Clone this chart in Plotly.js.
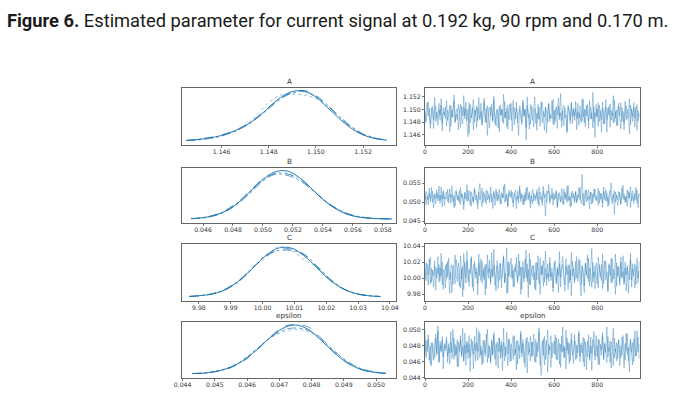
<!DOCTYPE html>
<html><head><meta charset="utf-8">
<script src="https://cdn.plot.ly/plotly-3.0.1.min.js"></script>
<style>html,body{margin:0;padding:0;background:#fff}#c{width:681px;height:404px}</style>
</head><body><div id="c"></div>
<script>
// ---------- data ----------
var paramNames = ["A", "B", "C", "epsilon"];

// KDE grids and chain densities (relative heights)
var kdeA_x = [1.1445,1.1450,1.1455,1.1460,1.1465,1.1470,1.1475,1.1480,1.1485,1.1490,1.1495,1.1500,1.1505,1.1510,1.1515,1.1520,1.1525,1.1530];
var kdeA_c1 = [0.01,0.03,0.06,0.11,0.19,0.30,0.46,0.66,0.86,0.98,0.99,0.87,0.66,0.44,0.25,0.12,0.05,0.015];
var kdeA_c2 = [0.01,0.03,0.07,0.12,0.20,0.31,0.47,0.67,0.85,0.96,1.00,0.90,0.70,0.47,0.27,0.13,0.05,0.02];
var kdeA_c3 = [0.01,0.03,0.06,0.10,0.18,0.31,0.52,0.76,0.91,0.93,0.91,0.84,0.68,0.47,0.28,0.14,0.06,0.02];
var kdeA_c4 = [0.01,0.02,0.05,0.10,0.18,0.29,0.45,0.64,0.83,0.95,0.98,0.89,0.71,0.49,0.29,0.14,0.06,0.02];

var kdeB_x = [0.0452,0.0460,0.0468,0.0476,0.0484,0.0492,0.0500,0.0508,0.0516,0.0524,0.0532,0.0540,0.0548,0.0556,0.0564,0.0572,0.0580,0.0586];
var kdeB_c1 = [0.01,0.03,0.08,0.18,0.35,0.58,0.81,0.97,0.99,0.86,0.64,0.40,0.22,0.10,0.04,0.015,0.005,0.002];
var kdeB_c2 = [0.01,0.03,0.09,0.20,0.37,0.60,0.82,0.93,0.93,0.83,0.63,0.41,0.23,0.11,0.05,0.02,0.008,0.003];
var kdeB_c3 = [0.01,0.03,0.08,0.19,0.36,0.60,0.84,0.95,0.94,0.84,0.64,0.42,0.24,0.11,0.05,0.02,0.007,0.003];
var kdeB_c4 = [0.01,0.02,0.07,0.17,0.33,0.55,0.78,0.92,0.90,0.80,0.62,0.41,0.24,0.12,0.05,0.02,0.008,0.003];

var kdeC_x = [9.977,9.981,9.985,9.989,9.993,9.997,10.001,10.005,10.009,10.013,10.017,10.021,10.025,10.029,10.033,10.037];
var kdeC_c1 = [0.01,0.03,0.07,0.17,0.34,0.58,0.82,0.97,0.97,0.82,0.58,0.34,0.17,0.07,0.025,0.008];
var kdeC_c2 = [0.01,0.03,0.08,0.18,0.35,0.58,0.80,0.93,0.95,0.84,0.60,0.35,0.17,0.07,0.03,0.01];
var kdeC_c3 = [0.01,0.03,0.07,0.17,0.35,0.60,0.78,1.00,0.92,0.74,0.60,0.36,0.18,0.08,0.03,0.01];
var kdeC_c4 = [0.01,0.03,0.07,0.16,0.33,0.57,0.83,0.92,0.92,0.85,0.62,0.37,0.18,0.07,0.03,0.01];

var kdeE_x = [0.0443,0.0447,0.0451,0.0455,0.0459,0.0463,0.0467,0.0471,0.0475,0.0479,0.0483,0.0487,0.0491,0.0495,0.0499,0.0503];
var kdeE_c1 = [0.01,0.02,0.06,0.14,0.28,0.49,0.73,0.92,0.99,0.90,0.68,0.43,0.23,0.10,0.04,0.012];
var kdeE_c2 = [0.01,0.02,0.06,0.13,0.27,0.48,0.73,0.95,1.00,0.95,0.72,0.44,0.23,0.10,0.04,0.012];
var kdeE_c3 = [0.01,0.03,0.07,0.15,0.30,0.51,0.72,0.85,0.90,0.85,0.69,0.46,0.25,0.11,0.045,0.015];
var kdeE_c4 = [0.01,0.02,0.06,0.14,0.29,0.50,0.72,0.88,0.93,0.88,0.71,0.47,0.26,0.12,0.05,0.015];

// Trace samples, two chains (every 5th draw)
var traceA1 = [1.1497,1.1480,1.1500,1.1512,1.1489,1.1477,1.1503,1.1494,1.1470,1.1501,1.1506,1.1486,1.1492,1.1510,1.1483,1.1517,1.1478,1.1496,1.1491,1.1504,
1.1474,1.1499,1.1495,1.1465,1.1507,1.1487,1.1502,1.1514,1.1481,1.1493,1.1484,1.1508,1.1498,1.1472,1.1505,1.1490,1.1522,1.1485,1.1501,1.1476,
1.1457,1.1511,1.1479,1.1488,1.1503,1.1468,1.1500,1.1492,1.1506,1.1482,1.1519,1.1486,1.1497,1.1475,1.1495,1.1513,1.1480,1.1502,1.1459,1.1498,
1.1504,1.1489,1.1509,1.1483,1.1516,1.1477,1.1493,1.1499,1.1471,1.1505,1.1491,1.1501,1.1481,1.1524,1.1487,1.1496,1.1473,1.1507,1.1484,1.1494,
1.1510,1.1466,1.1498,1.1503,1.1485,1.1512,1.1479,1.1495,1.1501,1.1488,1.1476,1.1515,1.1490,1.1500,1.1452,1.1506,1.1492,1.1469,1.1508,1.1497,
1.1483,1.1502,1.1520,1.1478,1.1494,1.1486,1.1504,1.1474,1.1499,1.1511,1.1489,1.1467,1.1503,1.1496,1.1480,1.1509,1.1485,1.1493,1.1514,1.1477,
1.1498,1.1481,1.1505,1.1491,1.1518,1.1484,1.1495,1.1472,1.1501,1.1507,1.1487,1.1492,1.1463,1.1504,1.1499,1.1478,1.1510,1.1489,1.1502,1.1483,
1.1513,1.1486,1.1496,1.1475,1.1506,1.1494,1.1482,1.1516,1.1479,1.1500,1.1490,1.1508,1.1470,1.1497,1.1503,1.1485,1.1527,1.1480,1.1495,1.1488,
1.1501,1.1473,1.1507,1.1493,1.1484,1.1512,1.1477,1.1498,1.1504,1.1464,1.1502,1.1491,1.1509,1.1483,1.1495,1.1479,1.1515,1.1487,1.1499,1.1474,
1.1505,1.1490,1.1511,1.1481,1.1497,1.1468,1.1500,1.1506,1.1486,1.1492,1.1517,1.1476,1.1501,1.1489,1.1503,1.1472,1.1496,1.1508,1.1482,1.1494];
var traceA2 = [1.1478,1.1498,1.1511,1.1489,1.1502,1.1470,1.1493,1.1505,1.1484,1.1519,1.1481,1.1496,1.1475,1.1500,1.1491,1.1507,1.1466,1.1503,1.1495,1.1486,
1.1514,1.1483,1.1492,1.1506,1.1473,1.1499,1.1488,1.1523,1.1479,1.1497,1.1502,1.1468,1.1494,1.1509,1.1485,1.1477,1.1504,1.1490,1.1512,1.1482,
1.1501,1.1462,1.1508,1.1487,1.1496,1.1516,1.1480,1.1499,1.1472,1.1503,1.1493,1.1484,1.1510,1.1476,1.1498,1.1518,1.1489,1.1479,1.1506,1.1492,
1.1471,1.1504,1.1497,1.1481,1.1521,1.1488,1.1474,1.1501,1.1495,1.1465,1.1507,1.1491,1.1500,1.1478,1.1513,1.1486,1.1502,1.1469,1.1494,1.1509,
1.1483,1.1496,1.1515,1.1476,1.1492,1.1503,1.1485,1.1459,1.1506,1.1498,1.1480,1.1511,1.1489,1.1501,1.1472,1.1520,1.1487,1.1493,1.1477,1.1505,
1.1499,1.1473,1.1502,1.1495,1.1467,1.1508,1.1484,1.1494,1.1513,1.1479,1.1497,1.1488,1.1504,1.1463,1.1500,1.1510,1.1481,1.1492,1.1486,1.1516,
1.1476,1.1501,1.1493,1.1470,1.1505,1.1489,1.1525,1.1482,1.1498,1.1474,1.1503,1.1491,1.1466,1.1507,1.1496,1.1483,1.1512,1.1478,1.1499,1.1490,
1.1502,1.1468,1.1510,1.1486,1.1494,1.1479,1.1517,1.1488,1.1500,1.1473,1.1506,1.1492,1.1482,1.1514,1.1485,1.1495,1.1471,1.1504,1.1456,1.1508,
1.1489,1.1511,1.1481,1.1498,1.1464,1.1502,1.1493,1.1477,1.1516,1.1484,1.1496,1.1505,1.1472,1.1499,1.1491,1.1522,1.1480,1.1497,1.1475,1.1501,
1.1510,1.1487,1.1469,1.1503,1.1494,1.1478,1.1513,1.1483,1.1500,1.1490,1.1462,1.1507,1.1495,1.1481,1.1511,1.1486,1.1504,1.1467,1.1498,1.1488];

var traceB1 = [0.0505,0.0528,0.0516,0.0492,0.0523,0.0509,0.0539,0.0500,0.0519,0.0513,0.0496,0.0525,0.0511,0.0543,0.0504,0.0518,0.0488,0.0531,0.0507,0.0522,
0.0527,0.0502,0.0515,0.0535,0.0497,0.0520,0.0510,0.0485,0.0524,0.0532,0.0506,0.0517,0.0499,0.0538,0.0512,0.0521,0.0493,0.0526,0.0508,0.0546,
0.0503,0.0519,0.0530,0.0489,0.0514,0.0501,0.0533,0.0522,0.0509,0.0482,0.0527,0.0505,0.0516,0.0537,0.0498,0.0523,0.0511,0.0494,0.0529,0.0520,
0.0507,0.0541,0.0500,0.0517,0.0524,0.0491,0.0513,0.0528,0.0504,0.0534,0.0510,0.0496,0.0521,0.0512,0.0548,0.0502,0.0518,0.0487,0.0525,0.0515,
0.0532,0.0506,0.0498,0.0523,0.0516,0.0483,0.0529,0.0509,0.0536,0.0501,0.0519,0.0514,0.0493,0.0526,0.0505,0.0540,0.0511,0.0522,0.0499,0.0517,
0.0495,0.0524,0.0518,0.0504,0.0533,0.0510,0.0489,0.0527,0.0520,0.0500,0.0542,0.0507,0.0463,0.0529,0.0523,0.0531,0.0503,0.0512,0.0537,0.0492,
0.0521,0.0509,0.0528,0.0486,0.0519,0.0525,0.0502,0.0516,0.0494,0.0535,0.0511,0.0522,0.0499,0.0544,0.0506,0.0513,0.0490,0.0530,0.0518,0.0504,
0.0526,0.0497,0.0515,0.0538,0.0505,0.0520,0.0573,0.0491,0.0510,0.0532,0.0501,0.0517,0.0533,0.0507,0.0527,0.0495,0.0522,0.0512,0.0534,0.0503,
0.0516,0.0491,0.0529,0.0508,0.0523,0.0499,0.0540,0.0514,0.0504,0.0525,0.0488,0.0519,0.0531,0.0510,0.0496,0.0521,0.0468,0.0527,0.0517,0.0506,
0.0528,0.0512,0.0494,0.0522,0.0545,0.0505,0.0515,0.0500,0.0533,0.0509,0.0524,0.0486,0.0519,0.0530,0.0503,0.0516,0.0539,0.0498,0.0511,0.0523];
var traceB2 = [0.0524,0.0493,0.0517,0.0506,0.0537,0.0500,0.0515,0.0529,0.0485,0.0522,0.0510,0.0532,0.0503,0.0519,0.0497,0.0540,0.0508,0.0526,0.0491,0.0514,
0.0509,0.0534,0.0498,0.0521,0.0512,0.0543,0.0501,0.0518,0.0489,0.0527,0.0516,0.0504,0.0530,0.0494,0.0523,0.0511,0.0480,0.0525,0.0520,0.0502,
0.0531,0.0507,0.0492,0.0526,0.0513,0.0499,0.0538,0.0505,0.0519,0.0496,0.0524,0.0549,0.0509,0.0488,0.0528,0.0515,0.0501,0.0533,0.0506,0.0517,
0.0498,0.0522,0.0514,0.0483,0.0529,0.0508,0.0535,0.0502,0.0520,0.0516,0.0494,0.0525,0.0511,0.0541,0.0500,0.0506,0.0523,0.0490,0.0531,0.0518,
0.0512,0.0527,0.0487,0.0521,0.0532,0.0504,0.0515,0.0497,0.0544,0.0509,0.0524,0.0493,0.0519,0.0501,0.0537,0.0513,0.0505,0.0528,0.0484,0.0523,
0.0534,0.0503,0.0518,0.0510,0.0526,0.0495,0.0540,0.0507,0.0514,0.0491,0.0529,0.0512,0.0522,0.0499,0.0517,0.0547,0.0496,0.0520,0.0508,0.0525,
0.0505,0.0515,0.0531,0.0489,0.0523,0.0509,0.0500,0.0536,0.0518,0.0494,0.0527,0.0506,0.0542,0.0503,0.0516,0.0487,0.0525,0.0511,0.0521,0.0498,
0.0529,0.0501,0.0519,0.0512,0.0539,0.0496,0.0508,0.0524,0.0490,0.0517,0.0532,0.0504,0.0515,0.0482,0.0526,0.0520,0.0499,0.0535,0.0510,0.0505,
0.0518,0.0537,0.0497,0.0523,0.0511,0.0486,0.0528,0.0507,0.0533,0.0502,0.0514,0.0493,0.0525,0.0551,0.0504,0.0510,0.0530,0.0500,0.0519,0.0491,
0.0507,0.0526,0.0495,0.0538,0.0509,0.0522,0.0499,0.0516,0.0489,0.0529,0.0512,0.0541,0.0503,0.0518,0.0496,0.0524,0.0506,0.0533,0.0485,0.0521];

var traceC1 = [10.010,9.997,10.018,10.004,10.024,9.993,10.012,10.006,9.989,10.015,10.009,10.000,10.027,9.995,10.013,10.002,10.020,9.986,10.008,10.016,
9.999,10.021,10.005,9.981,10.014,10.017,9.992,10.011,10.029,10.003,9.996,10.019,10.007,9.988,10.012,9.977,10.031,10.010,9.994,10.022,
10.008,9.990,10.015,10.025,10.001,9.984,10.018,10.005,10.013,9.993,10.030,10.006,9.997,10.021,10.002,10.014,9.979,10.017,10.009,10.000,
10.023,9.996,10.011,10.003,10.036,9.991,10.007,10.016,9.987,10.012,10.019,9.999,10.004,10.028,9.994,10.010,10.038,9.982,10.020,10.006,
10.001,10.017,9.989,10.013,10.008,10.026,9.997,10.005,10.021,9.980,10.014,10.009,9.995,10.024,10.000,10.018,9.976,10.031,9.992,10.011,
10.015,9.998,10.007,9.985,10.020,10.012,9.993,10.025,10.004,10.016,9.990,10.010,10.034,9.999,10.006,9.996,10.019,10.002,10.013,9.988,
10.009,10.022,9.995,10.011,9.982,10.018,10.001,10.014,10.027,10.005,9.992,10.015,10.008,9.986,10.017,9.998,10.032,10.003,10.012,9.994,
10.021,10.000,10.006,10.024,9.997,9.978,10.016,10.010,9.991,10.019,10.004,10.029,9.996,10.013,10.007,9.989,10.020,10.001,10.015,10.005,
9.993,10.026,10.012,10.002,10.017,9.987,10.009,10.022,9.998,10.008,9.983,10.018,10.003,10.025,9.995,10.011,10.005,10.030,9.990,10.014,
10.007,9.996,10.020,10.000,10.028,9.992,10.013,10.004,10.016,9.981,10.010,10.023,9.998,10.018,10.002,9.988,10.015,10.009,9.994,10.021];
var traceC2 = [10.000,10.019,10.008,9.991,10.014,10.026,9.995,10.010,10.003,10.022,9.985,10.013,10.005,10.017,9.997,10.031,9.992,10.011,10.006,9.988,
10.018,10.002,10.025,9.998,10.007,9.982,10.016,10.009,9.993,10.023,10.012,10.004,9.990,10.028,9.999,10.015,9.986,10.020,10.001,10.034,
9.996,10.011,10.005,10.027,9.989,10.014,10.021,10.000,10.008,9.979,10.019,10.003,10.024,9.994,10.010,9.998,10.017,9.987,10.029,10.007,
10.013,9.992,10.032,10.001,10.016,10.004,9.984,10.022,10.009,9.997,10.018,9.988,10.012,10.026,9.995,10.006,9.981,10.020,10.002,10.015,
10.025,9.999,10.010,9.990,10.017,10.007,9.994,10.030,10.003,10.014,9.986,10.021,10.000,10.008,10.035,9.996,10.011,9.992,10.023,10.005,
10.002,10.016,9.987,10.019,9.998,10.028,10.009,9.980,10.015,10.005,10.022,9.995,10.012,9.991,10.018,10.001,10.026,9.997,10.007,9.983,
10.020,10.006,9.993,10.014,10.003,10.033,9.989,10.011,10.017,9.999,9.984,10.024,10.004,10.016,9.994,10.010,9.978,10.021,10.013,9.997,
10.004,10.027,9.996,10.009,10.022,9.992,10.015,10.001,9.982,10.018,10.007,10.000,10.025,9.990,10.014,10.037,9.995,10.008,9.987,10.019,
10.012,9.988,10.017,10.003,9.997,10.030,9.993,10.010,10.021,10.005,9.985,10.016,10.011,9.994,10.024,9.999,10.006,9.980,10.019,10.002,
10.015,9.991,10.026,10.001,10.008,9.995,10.020,9.984,10.013,10.007,9.998,10.031,9.989,10.012,10.003,10.018,9.992,10.025,10.000,10.009];

var traceE1 = [0.0500,0.0465,0.0478,0.0489,0.0470,0.0457,0.0484,0.0475,0.0462,0.0482,0.0495,0.0468,0.0505,0.0460,0.0486,0.0472,0.0492,0.0466,0.0480,0.0474,
0.0487,0.0459,0.0483,0.0471,0.0498,0.0464,0.0476,0.0490,0.0467,0.0479,0.0454,0.0485,0.0473,0.0488,0.0469,0.0502,0.0463,0.0481,0.0456,0.0484,
0.0472,0.0493,0.0466,0.0477,0.0486,0.0451,0.0482,0.0474,0.0503,0.0462,0.0480,0.0496,0.0469,0.0475,0.0458,0.0487,0.0471,0.0483,0.0501,0.0465,
0.0479,0.0461,0.0488,0.0468,0.0494,0.0476,0.0455,0.0485,0.0473,0.0490,0.0464,0.0481,0.0449,0.0484,0.0478,0.0467,0.0497,0.0470,0.0489,0.0460,
0.0482,0.0477,0.0463,0.0492,0.0471,0.0486,0.0457,0.0480,0.0474,0.0499,0.0466,0.0488,0.0472,0.0453,0.0483,0.0491,0.0469,0.0476,0.0461,0.0485,
0.0467,0.0495,0.0478,0.0459,0.0484,0.0473,0.0503,0.0464,0.0443,0.0470,0.0489,0.0456,0.0479,0.0487,0.0447,0.0482,0.0475,0.0493,0.0465,0.0477,
0.0486,0.0469,0.0490,0.0462,0.0476,0.0483,0.0453,0.0492,0.0472,0.0480,0.0466,0.0500,0.0474,0.0485,0.0458,0.0478,0.0488,0.0468,0.0473,0.0494,
0.0463,0.0481,0.0471,0.0496,0.0467,0.0484,0.0477,0.0460,0.0489,0.0474,0.0450,0.0486,0.0479,0.0465,0.0491,0.0470,0.0483,0.0498,0.0462,0.0475,
0.0480,0.0457,0.0487,0.0476,0.0468,0.0493,0.0463,0.0482,0.0472,0.0504,0.0466,0.0478,0.0459,0.0485,0.0481,0.0455,0.0490,0.0473,0.0484,0.0464,
0.0488,0.0471,0.0465,0.0491,0.0477,0.0452,0.0483,0.0474,0.0495,0.0461,0.0480,0.0486,0.0469,0.0456,0.0489,0.0476,0.0467,0.0499,0.0472,0.0482];
var traceE2 = [0.0468,0.0487,0.0473,0.0494,0.0462,0.0480,0.0455,0.0484,0.0476,0.0465,0.0490,0.0471,0.0498,0.0459,0.0481,0.0474,0.0486,0.0451,0.0483,0.0477,
0.0491,0.0467,0.0478,0.0457,0.0485,0.0472,0.0501,0.0463,0.0482,0.0469,0.0488,0.0454,0.0475,0.0493,0.0466,0.0479,0.0460,0.0496,0.0470,0.0486,
0.0464,0.0482,0.0448,0.0489,0.0477,0.0469,0.0492,0.0461,0.0484,0.0473,0.0499,0.0465,0.0480,0.0456,0.0487,0.0476,0.0467,0.0495,0.0459,0.0481,
0.0478,0.0458,0.0485,0.0470,0.0497,0.0463,0.0483,0.0475,0.0452,0.0490,0.0472,0.0486,0.0466,0.0502,0.0461,0.0479,0.0474,0.0455,0.0488,0.0482,
0.0461,0.0484,0.0493,0.0468,0.0476,0.0450,0.0487,0.0480,0.0464,0.0495,0.0471,0.0483,0.0459,0.0478,0.0489,0.0446,0.0485,0.0473,0.0492,0.0467,
0.0485,0.0472,0.0460,0.0488,0.0466,0.0481,0.0498,0.0456,0.0477,0.0486,0.0468,0.0492,0.0463,0.0474,0.0500,0.0469,0.0479,0.0453,0.0484,0.0475,
0.0470,0.0494,0.0463,0.0479,0.0489,0.0457,0.0482,0.0473,0.0504,0.0465,0.0478,0.0451,0.0490,0.0469,0.0483,0.0461,0.0496,0.0474,0.0458,0.0487,
0.0483,0.0464,0.0477,0.0499,0.0460,0.0481,0.0471,0.0491,0.0454,0.0485,0.0474,0.0466,0.0494,0.0462,0.0480,0.0449,0.0488,0.0478,0.0468,0.0493,
0.0466,0.0489,0.0456,0.0482,0.0475,0.0497,0.0463,0.0484,0.0471,0.0459,0.0492,0.0473,0.0486,0.0452,0.0481,0.0502,0.0465,0.0476,0.0461,0.0480,
0.0487,0.0455,0.0480,0.0468,0.0493,0.0474,0.0462,0.0496,0.0469,0.0478,0.0447,0.0489,0.0472,0.0484,0.0460,0.0499,0.0467,0.0477,0.0491,0.0464];

var drawStep = 5;

// tick labels
var kdeTicks = [
  [1.146,1.148,1.150,1.152],
  [0.046,0.048,0.050,0.052,0.054,0.056,0.058],
  [9.98,9.99,10.00,10.01,10.02,10.03,10.04],
  [0.044,0.045,0.046,0.047,0.048,0.049,0.050]
];
var traceTicks = [
  [1.146,1.148,1.150,1.152],
  [0.045,0.050,0.055],
  [9.98,10.00,10.02,10.04],
  [0.044,0.046,0.048,0.050]
];
var drawTicks = [0,200,400,600,800];

// ---------- styling / layout ----------
var blue = "31,119,180";
var kdeX = [kdeA_x, kdeB_x, kdeC_x, kdeE_x];
var kdeY = [[kdeA_c1,kdeA_c2,kdeA_c3,kdeA_c4],[kdeB_c1,kdeB_c2,kdeB_c3,kdeB_c4],[kdeC_c1,kdeC_c2,kdeC_c3,kdeC_c4],[kdeE_c1,kdeE_c2,kdeE_c3,kdeE_c4]];
var traces = [[traceA1,traceA2],[traceB1,traceB2],[traceC1,traceC2],[traceE1,traceE2]];
var kdeRange = [[1.14432,1.15340],[0.0446,0.05887],[9.9747,10.0419],[0.04398,0.05062]];
var traceRange = [[1.1444,1.1534],[0.0445,0.0590],[9.9717,10.0425],[0.04397,0.0510]];
var kdeFmt = [".3f",".3f",".2f",".3f"];
var traceFmt = [".3f",".3f",".2f",".3f"];
var rowsPx = [[88,145],[168,223],[244,301],[322,378]];
var W = 681, H = 404;
var leftPx = [182,396], rightPx = [425,640];
var dashes = ["solid","dash","dot","dashdot"];
var alphas = [0.95,0.75,0.45,0.7];

var data = [], layout = {
  width: W, height: H, margin: {l:0,r:0,t:0,b:0},
  paper_bgcolor: "#fff", plot_bgcolor: "#fff", showlegend: false,
  font: {family: "DejaVu Sans, sans-serif", size: 7, color: "#333"},
  annotations: []
};
function axBase(){
  return {showline:true, mirror:true, linecolor:"#666", linewidth:1, showgrid:false, zeroline:false,
          ticks:"outside", ticklen:2, tickwidth:0.8, tickcolor:"#555",
          tickfont:{size:6.2,color:"#333"}};
}
for (var r=0;r<4;r++){
  var yd = [1-rowsPx[r][1]/H, 1-rowsPx[r][0]/H];
  var li = 2*r+1, ri = 2*r+2;
  var lx = "x"+li, ly = "y"+li, rx = "x"+ri, ry = "y"+ri;
  var xa = axBase(); xa.domain=[leftPx[0]/W,leftPx[1]/W]; xa.range=kdeRange[r]; xa.anchor=ly;
  xa.tickvals=kdeTicks[r]; xa.tickformat=kdeFmt[r]; xa.ticklabelstandoff=-1;
  var ya = axBase(); ya.domain=yd; ya.range=[-0.08,1.05]; ya.anchor=lx; ya.showticklabels=false; ya.ticks="";
  layout["xaxis"+li]=xa; layout["yaxis"+li]=ya;
  var xb = axBase(); xb.domain=[rightPx[0]/W,rightPx[1]/W]; xb.range=[0,999]; xb.anchor=ry; xb.tickvals=drawTicks; xb.ticklabelstandoff=-1;
  var yb = axBase(); yb.domain=yd; yb.range=traceRange[r]; yb.anchor=rx; yb.tickvals=traceTicks[r]; yb.tickformat=traceFmt[r];
  layout["xaxis"+ri]=xb; layout["yaxis"+ri]=yb;
  for (var c=0;c<4;c++){
    data.push({type:"scatter", mode:"lines", x:kdeX[r], y:kdeY[r][c], xaxis:lx, yaxis:ly,
      line:{color:"rgba("+blue+","+alphas[c]+")", width:1, dash:dashes[c], shape:"spline", smoothing:1}, hoverinfo:"skip"});
  }
  traces[r].forEach(function(chain){
    var draws = chain.map(function(v,i){return i*drawStep;});
    data.push({type:"scatter", mode:"lines", x:draws, y:chain, xaxis:rx, yaxis:ry,
      line:{color:"rgba("+blue+",0.46)", width:0.8, simplify:false}, hoverinfo:"skip"});
  });
  var ty = 1-(rowsPx[r][0]-6.5)/H;
  [leftPx,rightPx].forEach(function(p){
    layout.annotations.push({text:paramNames[r], xref:"paper", yref:"paper",
      x:(p[0]+p[1])/2/W, y:ty, xanchor:"center", yanchor:"middle", showarrow:false,
      font:{size:7.2,color:"#333"}});
  });
}
layout.annotations.push({text:"<b>Figure 6.</b> Estimated parameter for current signal at 0.192 kg, 90 rpm and 0.170 m.",
  xref:"paper", yref:"paper", x:5/W, y:1-20/H, xanchor:"left", yanchor:"middle", showarrow:false,
  font:{family:"Liberation Sans Narrow, Arial Narrow, Roboto, sans-serif", size:18.3, color:"#1a1a1a"}});

Plotly.newPlot("c", data, layout, {displayModeBar:false, staticPlot:true});
</script></body></html>
